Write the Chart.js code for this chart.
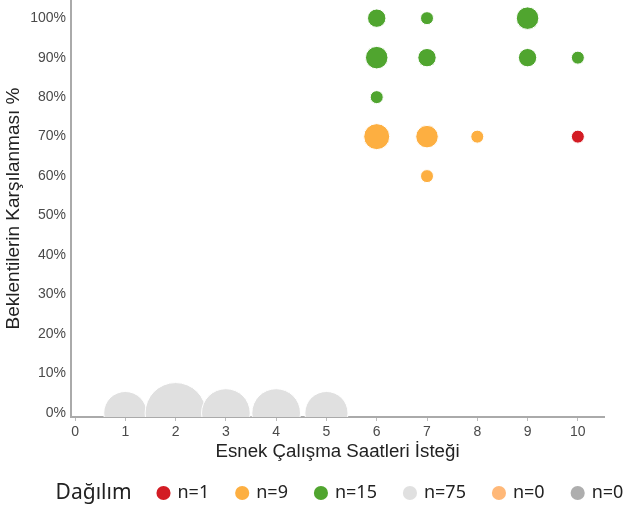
<!DOCTYPE html>
<html>
<head>
<meta charset="utf-8">
<script src="https://cdn.jsdelivr.net/npm/chart.js@4.4.0/dist/chart.umd.min.js"></script>
<style>
  html, body { margin: 0; padding: 0; background: #fff; }
  #wrap { width: 623px; height: 510px; }
</style>
</head>
<body>
<div id="wrap"><canvas id="chart"></canvas></div>
<script>
// x = desired flexible hours, y = expectations met (%), n = respondents at that point
const redX = [10];
const redY = [70];
const redN = [1];

const orangeX = [6, 7, 8, 7];
const orangeY = [70, 70, 70, 60];
const orangeN = [4, 3, 1, 1];

const greenX = [6, 7, 9, 6, 7, 9, 10, 6];
const greenY = [100, 100, 100, 90, 90, 90, 90, 80];
const greenN = [2, 1, 3, 3, 2, 2, 1, 1];

const grayX = [1, 2, 3, 4, 5];
const grayY = [0, 0, 0, 0, 0];
const grayN = [11, 22, 14, 14, 11];

const legendLabels = ['n=1', 'n=9', 'n=15', 'n=75', 'n=0', 'n=0'];
const xTicks = [0, 1, 2, 3, 4, 5, 6, 7, 8, 9, 10];
const yTicks = [0, 10, 20, 30, 40, 50, 60, 70, 80, 90, 100];

// bubble area grows with the count
function radius(n) { return 6.5 * Math.sqrt(n); }
function points(xs, ys, ns) {
  return xs.map((x, i) => ({ x: x, y: ys[i], r: radius(ns[i]) }));
}

function bubbleSet(label, color, xs, ys, ns) {
  return {
    label: label,
    data: points(xs, ys, ns),
    backgroundColor: color,
    borderColor: '#ffffff',
    borderWidth: 1,
    clip: 0
  };
}

const datasets = [
  bubbleSet('n=1', '#d31c24', redX, redY, redN),
  bubbleSet('n=9', '#fdaf41', orangeX, orangeY, orangeN),
  bubbleSet('n=15', '#50a52f', greenX, greenY, greenN),
  bubbleSet('n=75', '#e0e0e0', grayX, grayY, grayN),
  bubbleSet('n=0', '#ffb878', [], [], []),
  bubbleSet('n=0', '#aeaeae', [], [], [])
];

// legend sits to the right of its "Dağılım" caption
const legendPlacer = {
  id: 'legendPlacer',
  afterLayout(chart) {
    const lg = chart.legend;
    lg.left = 158.5 - 28;
    lg.right = 900;
    lg.top = 456;
  },
  afterDraw(chart) {
    const ctx = chart.ctx;
    ctx.save();
    ctx.font = '21px "Noto Sans"';
    ctx.fillStyle = '#222';
    ctx.textBaseline = 'middle';
    ctx.textAlign = 'left';
    ctx.fillText('Dağılım', 55.6, 493);
    ctx.restore();
  }
};

new Chart(document.getElementById('chart'), {
  type: 'bubble',
  data: { datasets: datasets },
  plugins: [legendPlacer],
  options: {
    responsive: true,
    maintainAspectRatio: false,
    animation: false,
    layout: { autoPadding: false, padding: { left: 0, right: 19, top: 0, bottom: 0 } },
    plugins: {
      tooltip: { enabled: false },
      legend: {
        position: 'bottom',
        align: 'start',
        labels: {
          usePointStyle: true,
          boxWidth: 10,
          boxHeight: 10,
          padding: 28,
          color: '#222',
          font: { family: 'Noto Sans', size: 18 },
          generateLabels: (chart) => chart.data.datasets.map((ds, i) => ({
            text: legendLabels[i],
            fillStyle: ds.backgroundColor,
            strokeStyle: ds.backgroundColor,
            lineWidth: 0,
            pointStyle: 'circle',
            hidden: false,
            fontColor: '#222',
            datasetIndex: i
          }))
        }
      }
    },
    scales: {
      x: {
        type: 'linear',
        min: -0.08,
        max: 10.52,
        afterBuildTicks: (s) => { s.ticks = xTicks.map(v => ({ value: v })); },
        afterFit: (s) => { s.height = 37; s.paddingLeft = 0; s.paddingRight = 0; },
        grid: { display: true, drawOnChartArea: false, drawTicks: true, tickLength: 4, color: '#bbbbbb' },
        border: { display: true, color: '#aaaaaa', width: 2 },
        ticks: { color: '#4a4a4a', padding: 3, maxRotation: 0, font: { family: 'Liberation Sans', size: 14 } },
        title: {
          display: true,
          text: 'Esnek Çalışma Saatleri İsteği',
          color: '#222',
          font: { family: 'Liberation Sans', size: 18.7 },
          padding: { top: 0, bottom: -9.4 }
        }
      },
      y: {
        type: 'linear',
        min: -1,
        max: 104.6,
        afterBuildTicks: (s) => { s.ticks = yTicks.map(v => ({ value: v })); },
        afterFit: (s) => { s.width = 71; s.paddingTop = 0; s.paddingBottom = 0; },
        grid: { display: true, drawOnChartArea: false, drawTicks: false },
        border: { display: true, color: '#aaaaaa', width: 2 },
        ticks: {
          color: '#4a4a4a',
          padding: 5,
          font: { family: 'Liberation Sans', size: 14 },
          callback: (v) => v + '%'
        },
        title: {
          display: true,
          text: 'Beklentilerin Karşılanması %',
          color: '#222',
          font: { family: 'Liberation Sans', size: 19 },
          padding: { top: 2, bottom: 0 }
        }
      }
    }
  }
});
</script>
</body>
</html>
